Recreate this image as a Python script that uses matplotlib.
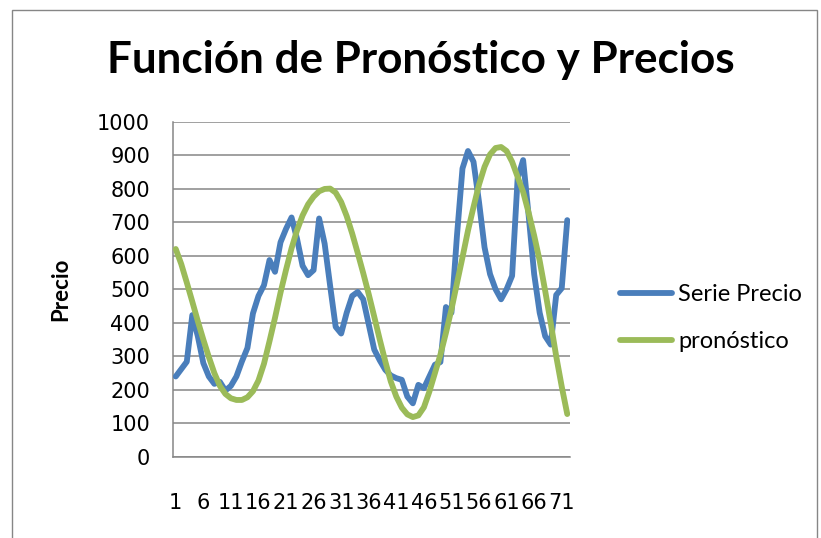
import matplotlib
matplotlib.use("Agg")
import matplotlib.pyplot as plt
from matplotlib.patches import Rectangle

plt.rcParams['font.family'] = ['Lato', 'DejaVu Sans']

# datos
periodos = list(range(1, 73))
serie_precio = [240, 262, 284, 423, 360, 280, 240, 218, 224, 198,
                212, 240, 285, 325, 428, 480, 512, 587, 552, 640,
                680, 714, 650, 570, 542, 557, 711, 636, 510, 388,
                368, 430, 480, 492, 470, 395, 320, 288, 260, 243,
                235, 230, 180, 160, 215, 205, 240, 275, 283, 447,
                430, 660, 860, 912, 880, 760, 625, 545, 500, 470,
                500, 540, 830, 885, 720, 545, 430, 360, 335, 483,
                503, 706]
pronostico = [620, 575, 520, 463, 405, 350, 298, 250, 212, 188,
              175, 170, 170, 178, 196, 228, 278, 345, 415, 490,
              558, 622, 676, 720, 753, 776, 792, 799, 800, 788,
              760, 718, 666, 608, 548, 485, 418, 350, 285, 225,
              180, 147, 127, 119, 124, 148, 195, 250, 305, 370,
              440, 518, 595, 675, 745, 812, 865, 902, 921, 924,
              912, 880, 835, 790, 728, 660, 585, 495, 400, 300,
              210, 128]
xticks = list(range(1, 73, 5))
yticks = list(range(0, 1001, 100))

W, H = 821, 538
fig = plt.figure(figsize=(W / 100, H / 100), dpi=100)
ax = fig.add_axes([173 / W, 81 / H, (570 - 173) / W, (457 - 121.5) / H])

ax.plot(periodos, serie_precio, color='#4a7ebb', lw=4.2, label='Serie Precio',
        solid_joinstyle='round', solid_capstyle='round', zorder=3)
ax.plot(periodos, pronostico, color='#9bbb59', lw=4.2, label='pronóstico',
        solid_joinstyle='round', solid_capstyle='round', zorder=3)

ax.set_xlim(0.5, 72.5)
ax.set_ylim(0, 1000)
ax.set_yticks(yticks)
ax.set_xticks(xticks)
ax.set_xticklabels([str(t) for t in xticks])
ax.tick_params(axis='both', length=0, labelsize=15, colors='black')
ax.tick_params(axis='y', pad=16.5)
ax.tick_params(axis='x', pad=26)
for lab in ax.get_xticklabels() + ax.get_yticklabels():
    lab.set_family('DejaVu Sans')
ax.grid(axis='y', color='#868686', lw=1.1)
ax.set_axisbelow(True)
for s in ['top', 'right']:
    ax.spines[s].set_visible(False)
ax.spines['left'].set_color('#868686')
ax.spines['bottom'].set_color('#868686')
ax.spines['left'].set_linewidth(1.1)
ax.spines['bottom'].set_linewidth(1.1)

ax.set_ylabel('Precio', fontsize=16, fontweight='bold')
ax.yaxis.set_label_coords(-102 / 397, 0.5)

fig.text(421 / W, 1 - 60 / H, 'Función de Pronóstico y Precios', fontsize=31.7,
         fontweight='bold', ha='center', va='center')

leg = fig.legend(loc='center left', bbox_to_anchor=(599 / W, 1 - 318 / H),
                 frameon=False, fontsize=17, handlelength=2.2,
                 handletextpad=0.25, labelspacing=1.12)
for line in leg.get_lines():
    line.set_linewidth(4.2)

fig.add_artist(Rectangle((12 / W, -0.05), 805 / W, 1.05 - 10 / H,
                         transform=fig.transFigure, fill=False,
                         edgecolor='#868686', lw=1))

fig.savefig('out.png', dpi=100)
